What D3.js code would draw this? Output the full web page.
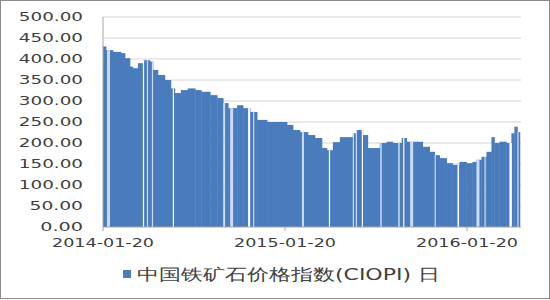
<!DOCTYPE html>
<html>
<head>
  <meta charset="utf-8">
  <style>
    body {
      margin: 0;
      background: white;
    }
    text {
      font-family: "DejaVu Sans", sans-serif;
      fill: #404040;
    }
  </style>
</head>
<body>
  <script src="https://d3js.org/d3.v7.min.js"></script>
  <script>
    var width = 550, height = 300;

    // CIOPI daily index
    var dates = [
      "2014-01-20","2014-01-26","2014-02-09","2014-02-19","2014-02-25","2014-03-05","2014-03-15","2014-03-21",
      "2014-03-31","2014-04-10","2014-04-24","2014-04-30","2014-05-10","2014-05-24","2014-06-05","2014-06-13",
      "2014-06-25","2014-07-09","2014-07-24","2014-08-05","2014-08-23","2014-09-06","2014-09-18","2014-09-28",
      "2014-10-16","2014-10-28","2014-11-11","2014-11-25","2014-12-15","2015-01-04","2015-01-24","2015-02-05",
      "2015-02-19","2015-03-07","2015-03-21","2015-04-04","2015-04-14","2015-04-26","2015-05-10","2015-05-24",
      "2015-06-05","2015-06-13","2015-06-25","2015-07-05","2015-07-15","2015-07-29","2015-08-12","2015-08-24",
      "2015-09-11","2015-09-21","2015-10-13","2015-10-23","2015-11-06","2015-11-16","2015-11-26","2015-12-10",
      "2015-12-22","2016-01-05","2016-01-19","2016-01-31","2016-02-08","2016-02-18","2016-02-28","2016-03-09",
      "2016-03-15","2016-03-25","2016-04-08","2016-04-18","2016-04-24","2016-04-30"
    ];
    var values = [
      430, 421, 417, 417, 414, 402, 382, 378,
      390, 397, 394, 374, 362, 350, 330, 319,
      326, 330, 326, 322, 314, 307, 295, 283,
      290, 283, 274, 255, 250, 250, 243, 231,
      226, 219, 212, 188, 183, 202, 214, 214,
      223, 231, 219, 188, 188, 200, 203, 200,
      212, 203, 203, 191, 179, 171, 164, 152,
      148, 155, 152, 155, 160, 167, 179, 214,
      200, 203, 200, 223, 239, 226
    ];
    var endDate = "2016-05-05";

    // days without a quote (holidays etc.)
    var gaps = [
      ["2014-01-28","2014-02-03"], ["2014-04-10","2014-04-11"], ["2014-04-18","2014-04-19"],
      ["2014-04-28","2014-04-30"], ["2014-06-09","2014-06-10"], ["2014-09-18","2014-09-22"],
      ["2014-10-02","2014-10-08"], ["2014-11-07","2014-11-11"], ["2014-11-17","2014-11-18"],
      ["2015-02-23","2015-02-27"], ["2015-04-18","2015-04-19"], ["2015-06-05","2015-06-07"],
      ["2015-06-11","2015-06-13"], ["2015-06-23","2015-06-24"], ["2015-07-30","2015-08-02"],
      ["2015-09-04","2015-09-07"], ["2015-09-14","2015-09-15"], ["2015-09-28","2015-10-04"],
      ["2015-11-16","2015-11-17"], ["2016-01-01","2016-01-04"], ["2016-02-08","2016-02-14"],
      ["2016-02-24","2016-02-25"], ["2016-04-14","2016-04-19"], ["2016-04-30","2016-05-01"]
    ];

    var yTicks = [0, 50, 100, 150, 200, 250, 300, 350, 400, 450, 500];
    var xTicks = ["2014-01-20", "2015-01-20", "2016-01-20"];
    var seriesName = "中国铁矿石价格指数(CIOPI) 日";

    var parse = d3.timeParse("%Y-%m-%d");
    var data = dates.map((d, i) => ({ date: parse(d), value: values[i] }));
    data.forEach((d, i) => { d.next = i < data.length - 1 ? data[i + 1].date : parse(endDate); });

    var margin = { left: 103, right: 29, top: 17, bottom: 73 };

    var x = d3.scaleTime()
        .domain([parse("2014-01-20"), parse("2016-01-20")])
        .range([margin.left, 467]);
    var y = d3.scaleLinear()
        .domain([0, 500])
        .range([height - margin.bottom, margin.top]);
    var plotRight = width - margin.right;

    var svg = d3.select("body").append("svg")
        .attr("width", width)
        .attr("height", height);

    svg.append("rect")
        .attr("x", 0.5).attr("y", 0.5)
        .attr("width", width - 1).attr("height", height - 2)
        .attr("fill", "white")
        .attr("stroke", "#8c8c8c");

    // gridlines
    svg.append("g")
        .selectAll("line")
        .data(yTicks.slice(1))
      .enter().append("line")
        .attr("x1", margin.left).attr("x2", plotRight)
        .attr("y1", d => y(d)).attr("y2", d => y(d))
        .attr("stroke", "#d4d4d4");

    // bars
    svg.append("g")
        .selectAll("rect")
        .data(data)
      .enter().append("rect")
        .attr("x", d => x(d.date))
        .attr("width", d => x(d.next) - x(d.date) + 0.4)
        .attr("y", d => y(d.value))
        .attr("height", d => y(0) - y(d.value))
        .attr("fill", "#4a7cbd");

    // holiday stripes
    var bisect = d3.bisector(d => d.date).right;
    svg.append("g")
        .selectAll("rect")
        .data(gaps)
      .enter().append("rect")
        .attr("x", d => x(parse(d[0])))
        .attr("width", d => Math.max(1.2, x(parse(d[1])) - x(parse(d[0]))))
        .attr("y", d => y(data[Math.max(0, bisect(data, parse(d[0])) - 1)].value))
        .attr("height", d => y(0) - y(data[Math.max(0, bisect(data, parse(d[0])) - 1)].value))
        .attr("fill", (d, i) => i % 3 === 1 ? "#ffffff" : "#c9dcf2");

    // axes lines
    svg.append("line")
        .attr("x1", margin.left).attr("x2", margin.left)
        .attr("y1", y(500)).attr("y2", y(0))
        .attr("stroke", "#a6a6a6");
    svg.append("line")
        .attr("x1", margin.left).attr("x2", plotRight)
        .attr("y1", y(0)).attr("y2", y(0))
        .attr("stroke", "#a6a6a6");

    svg.append("g")
        .selectAll("line")
        .data(xTicks)
      .enter().append("line")
        .attr("x1", d => x(parse(d))).attr("x2", d => x(parse(d)))
        .attr("y1", y(0)).attr("y2", y(0) + 4)
        .attr("stroke", "#a6a6a6");

    // y labels
    svg.append("g")
        .selectAll("text")
        .data(yTicks)
      .enter().append("text")
        .attr("x", 83)
        .attr("y", d => y(d))
        .attr("dy", "0.36em")
        .attr("text-anchor", "end")
        .attr("font-size", 12)
        .attr("textLength", d => d3.format(".2f")(d).length * 10.7)
        .attr("lengthAdjust", "spacingAndGlyphs")
        .text(d => d3.format(".2f")(d));

    // x labels
    svg.append("g")
        .selectAll("text")
        .data(xTicks)
      .enter().append("text")
        .attr("x", d => x(parse(d)))
        .attr("y", 247)
        .attr("text-anchor", "middle")
        .attr("font-size", 13)
        .attr("textLength", 102)
        .attr("lengthAdjust", "spacingAndGlyphs")
        .text(d => d);

    // legend
    svg.append("rect")
        .attr("x", 123).attr("y", 270)
        .attr("width", 8).attr("height", 8)
        .attr("fill", "#4a7cbd");
    svg.append("text")
        .attr("x", 137)
        .attr("y", 280)
        .attr("font-size", 16)
        .attr("font-family", "'Noto Sans CJK SC', sans-serif")
        .attr("textLength", 303)
        .attr("lengthAdjust", "spacingAndGlyphs")
        .text(seriesName);
  </script>
</body>
</html>
